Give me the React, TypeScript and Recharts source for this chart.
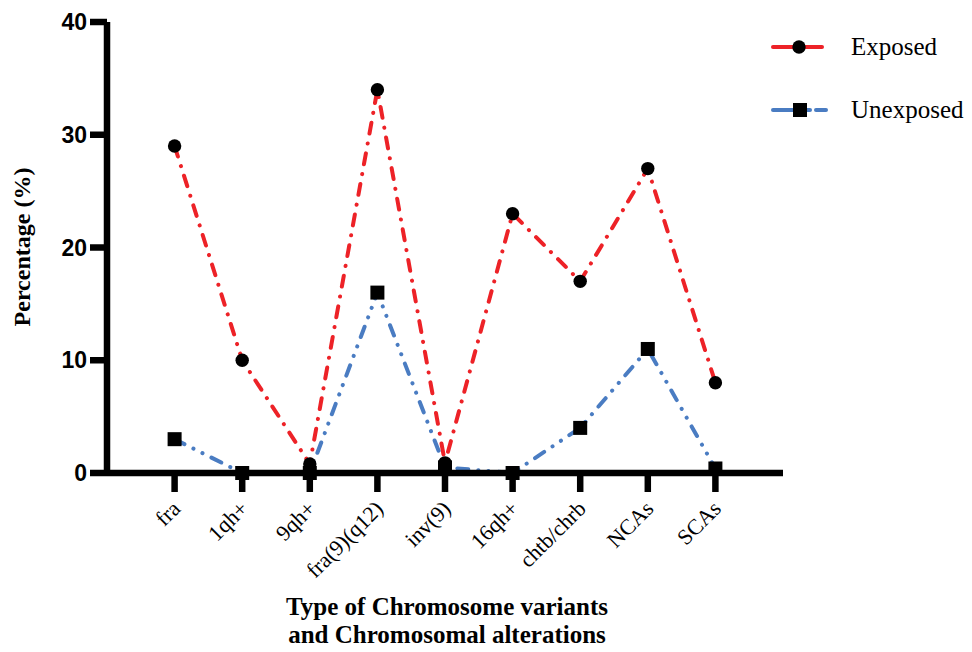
import React from 'react';
import { LineChart, Line, XAxis, YAxis } from 'recharts';

const categories = ['fra', '1qh+', '9qh+', 'fra(9)(q12)', 'inv(9)', '16qh+', 'chtb/chrb', 'NCAs', 'SCAs'];
const exposed = [29, 10, 0.8, 34, 0.9, 23, 17, 27, 8];
const unexposed = [3, 0, 0, 16, 0.5, 0, 4, 11, 0.4];
const yTicks = [0, 10, 20, 30, 40];
const xPositions = [1, 2, 3, 4, 5, 6, 7, 8, 9];

const data = categories.map((c, i) => ({
  pos: xPositions[i],
  name: c,
  exposed: exposed[i],
  unexposed: unexposed[i],
}));

const RED = '#ED2227';
const BLUE = '#4A7CC2';
const SERIF = '"Liberation Serif", "Times New Roman", serif';
const SANS = '"Liberation Sans", Arial, sans-serif';

const CircleDot = (props: any) => {
  const { cx, cy, index } = props;
  if (cx == null || cy == null) return null;
  return <circle key={`c${index}`} cx={cx} cy={cy} r={6.7} fill="#000" />;
};

const SquareDot = (props: any) => {
  const { cx, cy, index } = props;
  if (cx == null || cy == null) return null;
  return <rect key={`s${index}`} x={cx - 7} y={cy - 7} width={14} height={14} fill="#000" />;
};

const XTick = (props: any) => {
  const { x, y, payload } = props;
  const label = categories[payload.value - 1] ?? '';
  const ax = x + 7;
  const ay = y + 16;
  return (
    <text
      x={ax}
      y={ay}
      transform={`rotate(-45 ${ax} ${ay})`}
      textAnchor="end"
      fontFamily={SERIF}
      fontSize={22}
      fill="#000"
    >
      {label}
    </text>
  );
};

const legendText: React.CSSProperties = {
  marginLeft: 21,
  fontFamily: SERIF,
  fontSize: 25,
  color: '#000',
  whiteSpace: 'nowrap',
  flexShrink: 0,
};

export default function App() {
  return (
    <div style={{ position: 'relative', width: 956, height: 636 }}>
      <LineChart
        width={956}
        height={636}
        data={data}
        margin={{ top: 14, right: 181, bottom: 0, left: 0 }}
      >
        <XAxis
          dataKey="pos"
          type="number"
          domain={[0, 10]}
          ticks={xPositions}
          interval={0}
          height={171}
          axisLine={{ stroke: '#000', strokeWidth: 6.5 }}
          tickLine={{ stroke: '#000', strokeWidth: 6.5 }}
          tickSize={19}
          tick={<XTick />}
        />
        <YAxis
          type="number"
          domain={[0, 40]}
          ticks={yTicks}
          width={99}
          axisLine={{ stroke: '#000', strokeWidth: 6.5 }}
          tickLine={{ stroke: '#000', strokeWidth: 6.5 }}
          tickSize={17}
          tickMargin={3}
          tick={{ fill: '#000', fontFamily: SANS, fontWeight: 700, fontSize: 23 }}
        />
        <Line
          dataKey="unexposed"
          stroke={BLUE}
          strokeWidth={4}
          strokeDasharray="11 10 0.1 10 0.1 10"
          strokeLinecap="round"
          dot={<SquareDot />}
          activeDot={false}
          isAnimationActive={false}
        />
        <Line
          dataKey="exposed"
          stroke={RED}
          strokeWidth={4}
          strokeDasharray="11 10 0.1 10"
          strokeLinecap="round"
          dot={<CircleDot />}
          activeDot={false}
          isAnimationActive={false}
        />
      </LineChart>

      {/* Y axis title */}
      <div
        style={{
          position: 'absolute',
          left: 14,
          top: 239,
          transform: 'translate(-50%, -50%) rotate(-90deg)',
          whiteSpace: 'nowrap',
          fontFamily: SERIF,
          fontWeight: 700,
          fontSize: 24,
          color: '#000',
        }}
      >
        Percentage (%)
      </div>

      {/* X axis title */}
      <div
        style={{
          position: 'absolute',
          left: 239,
          width: 400,
          top: 585,
          textAlign: 'center',
          lineHeight: '28px',
          fontFamily: SERIF,
          fontWeight: 700,
          fontSize: 25,
          color: '#000',
        }}
      >
        Type of Chromosome variants
        <br />
        and Chromosomal alterations
      </div>

      {/* Legend */}
      <div style={{ position: 'absolute', left: 762, top: 22, width: 'max-content' }}>
        <div style={{ display: 'flex', alignItems: 'center', height: 34 }}>
          <svg width={60} height={20} style={{ flexShrink: 0 }}>
            <line x1={3} y1={10} x2={52} y2={10} stroke={RED} strokeWidth={4} strokeLinecap="round" />
            <circle cx={29} cy={10} r={6.7} fill="#000" />
          </svg>
          <span style={legendText}>Exposed</span>
        </div>
        <div style={{ display: 'flex', alignItems: 'center', height: 34, marginTop: 29 }}>
          <svg width={60} height={20} style={{ flexShrink: 0 }}>
            <line x1={3} y1={10} x2={40} y2={10} stroke={BLUE} strokeWidth={4} strokeLinecap="round" />
            <line x1={46} y1={10} x2={56} y2={10} stroke={BLUE} strokeWidth={4} strokeLinecap="round" />
            <rect x={23} y={3} width={14} height={14} fill="#000" />
          </svg>
          <span style={legendText}>Unexposed</span>
        </div>
      </div>
    </div>
  );
}
